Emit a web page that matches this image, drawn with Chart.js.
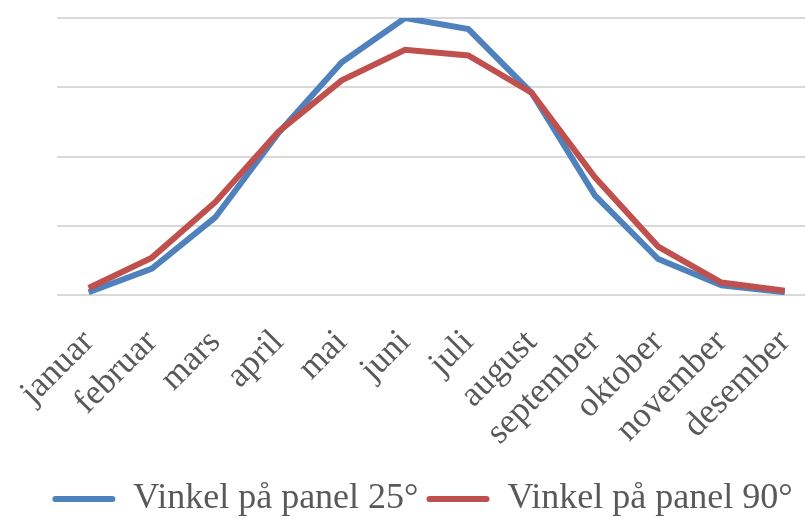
<!DOCTYPE html>
<html>
<head>
<meta charset="utf-8">
<script src="https://cdn.jsdelivr.net/npm/chart.js@4"></script>
<style>
  html, body { margin: 0; padding: 0; background: #fff; }
  #wrap { width: 805px; height: 527px; position: relative; }
</style>
</head>
<body>
<div id="wrap"><canvas id="solChart"></canvas></div>
<script>
const months = ['januar', 'februar', 'mars', 'april', 'mai', 'juni',
                'juli', 'august', 'september', 'oktober', 'november', 'desember'];
const panel25 = [2, 19, 56, 117, 168, 200, 192, 146, 72, 26, 7, 2];
const panel90 = [5, 27, 67, 118, 155, 177, 173, 146, 85, 35, 9, 3];
const seriesNames = ['Vinkel på panel 25°', 'Vinkel på panel 90°'];

const toPoints = arr => arr.map((v, i) => ({ x: i, y: v }));

const ctx = document.getElementById('solChart').getContext('2d');

const solChart = new Chart(ctx, {
    type: 'line',
    data: {
        datasets: [{
            label: seriesNames[0],
            data: toPoints(panel25),
            borderColor: '#4F81BD',
            backgroundColor: '#4F81BD',
            borderWidth: 6,
            pointRadius: 0,
            tension: 0,
            order: 1
        }, {
            label: seriesNames[1],
            data: toPoints(panel90),
            borderColor: '#C0504D',
            backgroundColor: '#C0504D',
            borderWidth: 6,
            pointRadius: 0,
            tension: 0,
            order: 0
        }]
    },
    options: {
        animation: false,
        maintainAspectRatio: false,
        responsive: true,
        layout: {
            padding: { left: 40, right: 0, top: 18, bottom: 0 }
        },
        scales: {
            x: {
                type: 'linear',
                min: -0.5,
                max: 11.32,
                afterBuildTicks: axis => {
                    axis.ticks = months.map((m, i) => ({ value: i }));
                },
                afterFit: axis => {
                    // keep the plot running to the right edge, like the original
                    axis.paddingLeft = 0;
                    axis.paddingRight = 0;
                    axis.height = 178;
                },
                grid: { display: false },
                border: { display: false },
                ticks: {
                    autoSkip: false,
                    minRotation: 45,
                    maxRotation: 45,
                    padding: 19,
                    color: '#595959',
                    font: { family: 'Liberation Serif', size: 35 },
                    callback: value => months[value]
                }
            },
            y: {
                min: 0,
                max: 200,
                afterFit: axis => { axis.width = 17; },
                ticks: { display: false, stepSize: 50 },
                border: { display: false },
                grid: { color: '#d9d9d9', lineWidth: 2, drawTicks: false }
            }
        },
        plugins: {
            legend: {
                display: true,
                position: 'bottom',
                labels: {
                    boxWidth: 63,
                    boxHeight: 6,
                    useBorderRadius: true,
                    borderRadius: 3,
                    padding: 8,
                    color: '#595959',
                    font: { family: 'Liberation Serif', size: 36, lineHeight: 0.8 },
                    sort: (a, b) => a.datasetIndex - b.datasetIndex,
                    generateLabels: chart => {
                        const items = Chart.defaults.plugins.legend.labels.generateLabels(chart);
                        items.forEach(it => { it.lineWidth = 0; it.fillStyle = it.strokeStyle; });
                        return items;
                    }
                }
            },
            tooltip: { enabled: false }
        }
    }
});
</script>
</body>
</html>
